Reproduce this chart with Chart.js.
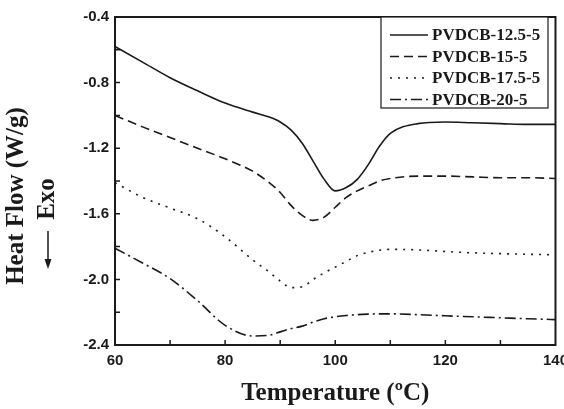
<!DOCTYPE html>
<html>
<head>
<meta charset="utf-8">
<script src="https://cdn.jsdelivr.net/npm/chart.js@4.4.1/dist/chart.umd.min.js"></script>
<style>
    html, body { margin: 0; padding: 0; background: #fff; overflow: hidden; }
    #wrap { width: 564px; height: 409px; overflow: hidden; }
    canvas { display: block; }
</style>
</head>
<body>
<div id="wrap"><canvas id="chart" width="575" height="409"></canvas></div>
<script>
// temperatures (°C) the curves were read at
const temps = [60, 65, 70, 75, 80, 85, 88, 90, 92, 94, 96, 98, 100, 102, 104, 106, 108, 110, 115, 120, 125, 130, 135, 140];

const pvdcb125 = [-0.58, -0.675, -0.77, -0.85, -0.925, -0.98, -1.01, -1.04, -1.09, -1.17, -1.28, -1.39, -1.46, -1.44, -1.39, -1.30, -1.19, -1.11, -1.05, -1.04, -1.045, -1.05, -1.055, -1.055];
const pvdcb15 = [-1.0, -1.07, -1.135, -1.2, -1.265, -1.34, -1.41, -1.47, -1.55, -1.61, -1.64, -1.62, -1.56, -1.50, -1.46, -1.43, -1.40, -1.385, -1.37, -1.37, -1.375, -1.38, -1.38, -1.385];
const pvdcb175 = [-1.41, -1.50, -1.565, -1.63, -1.74, -1.88, -1.955, -2.01, -2.05, -2.045, -2.0, -1.96, -1.925, -1.89, -1.855, -1.835, -1.822, -1.817, -1.82, -1.83, -1.838, -1.843, -1.847, -1.85];
const pvdcb20 = [-1.81, -1.90, -1.995, -2.13, -2.28, -2.345, -2.34, -2.32, -2.30, -2.285, -2.26, -2.24, -2.228, -2.22, -2.215, -2.212, -2.21, -2.21, -2.215, -2.222, -2.228, -2.234, -2.24, -2.245];

const seriesLabels = ["PVDCB-12.5-5", "PVDCB-15-5", "PVDCB-17.5-5", "PVDCB-20-5"];
const seriesValues = [pvdcb125, pvdcb15, pvdcb175, pvdcb20];
const dashes = [[], [9, 5], [2, 6], [11, 4, 2, 4]];

const ink = "#1a1a1a";

const datasets = seriesLabels.map((label, i) => ({
    label,
    data: temps.map((t, k) => ({ x: t, y: seriesValues[i][k] })),
    borderColor: ink,
    borderWidth: 1.6,
    borderDash: dashes[i],
    pointRadius: 0,
    fill: false,
    cubicInterpolationMode: "monotone",
}));

const framePlugin = {
    id: "frame",
    afterDraw(chart) {
        const { ctx, chartArea: a, scales } = chart;
        const x = scales.x;
        const y = scales.y;
        ctx.save();

        // box round the plot
        ctx.strokeStyle = ink;
        ctx.lineWidth = 2;
        ctx.strokeRect(a.left, a.top, a.right - a.left, a.bottom - a.top);

        // inward ticks, major and minor
        ctx.lineWidth = 1.5;
        ctx.beginPath();
        for (let v = 70; v < 140; v += 10) {
            const px = x.getPixelForValue(v);
            ctx.moveTo(px, a.bottom);
            ctx.lineTo(px, a.bottom - 5);
        }
        for (let i = 1; i < 10; i++) {
            const py = y.getPixelForValue(-2.4 + i * 0.2);
            ctx.moveTo(a.left, py);
            ctx.lineTo(a.left + 5, py);
        }
        ctx.stroke();

        // legend
        const lx = 381, ly = a.top, lw = 167, lh = 91;
        ctx.fillStyle = "#fff";
        ctx.fillRect(lx, ly, lw, lh);
        ctx.lineWidth = 1.2;
        ctx.strokeRect(lx, ly, lw, lh);
        ctx.font = "bold 17px 'Liberation Serif'";
        ctx.textBaseline = "middle";
        ctx.textAlign = "left";
        chart.data.datasets.forEach((ds, i) => {
            const rowY = 35 + i * 21.5;
            ctx.beginPath();
            ctx.setLineDash(ds.borderDash);
            ctx.lineWidth = 1.6;
            ctx.moveTo(390, rowY);
            ctx.lineTo(428, rowY);
            ctx.stroke();
            ctx.setLineDash([]);
            ctx.fillStyle = ink;
            ctx.fillText(ds.label, 432, rowY + 1);
        });

        // y axis title, two lines, with the Exo arrow
        ctx.fillStyle = ink;
        ctx.font = "bold 25px 'Liberation Serif'";
        ctx.textAlign = "center";
        ctx.save();
        ctx.translate(17, 196);
        ctx.rotate(-Math.PI / 2);
        ctx.fillText("Heat Flow (W/g)", 0, 0);
        ctx.restore();
        ctx.save();
        ctx.translate(48, 199);
        ctx.rotate(-Math.PI / 2);
        ctx.fillText("Exo", 0, 0);
        ctx.restore();
        ctx.beginPath();
        ctx.lineWidth = 1.5;
        ctx.moveTo(48, 231);
        ctx.lineTo(48, 262);
        ctx.stroke();
        ctx.beginPath();
        ctx.moveTo(44.5, 259);
        ctx.lineTo(51.5, 259);
        ctx.lineTo(48, 269);
        ctx.closePath();
        ctx.fill();

        ctx.restore();
    },
};

new Chart(document.getElementById("chart"), {
    type: "line",
    data: { datasets },
    options: {
        responsive: false,
        animation: false,
        layout: { padding: { top: 17, right: 12, bottom: 0, left: 0 } },
        plugins: {
            legend: { display: false },
            tooltip: { enabled: false },
        },
        scales: {
            x: {
                type: "linear",
                min: 60,
                max: 140,
                grid: { display: false, drawTicks: false },
                border: { display: false },
                ticks: {
                    stepSize: 20,
                    padding: 7,
                    color: ink,
                    font: { family: "'Liberation Sans'", size: 15, weight: "bold" },
                },
                title: {
                    display: true,
                    text: "Temperature (\u00baC)",
                    color: ink,
                    font: { family: "'Liberation Serif'", size: 25, weight: "bold" },
                    padding: { top: 0, bottom: 0 },
                },
                afterFit(scale) {
                    scale.height = 64;
                },
            },
            y: {
                min: -2.4,
                max: -0.4,
                grid: { display: false, drawTicks: false },
                border: { display: false },
                ticks: {
                    stepSize: 0.4,
                    padding: 6,
                    color: ink,
                    font: { family: "'Liberation Sans'", size: 15, weight: "bold" },
                    callback: (v) => v.toFixed(1),
                },
                afterFit(scale) {
                    scale.width = 115;
                },
            },
        },
    },
    plugins: [framePlugin],
});
</script>
</body>
</html>
